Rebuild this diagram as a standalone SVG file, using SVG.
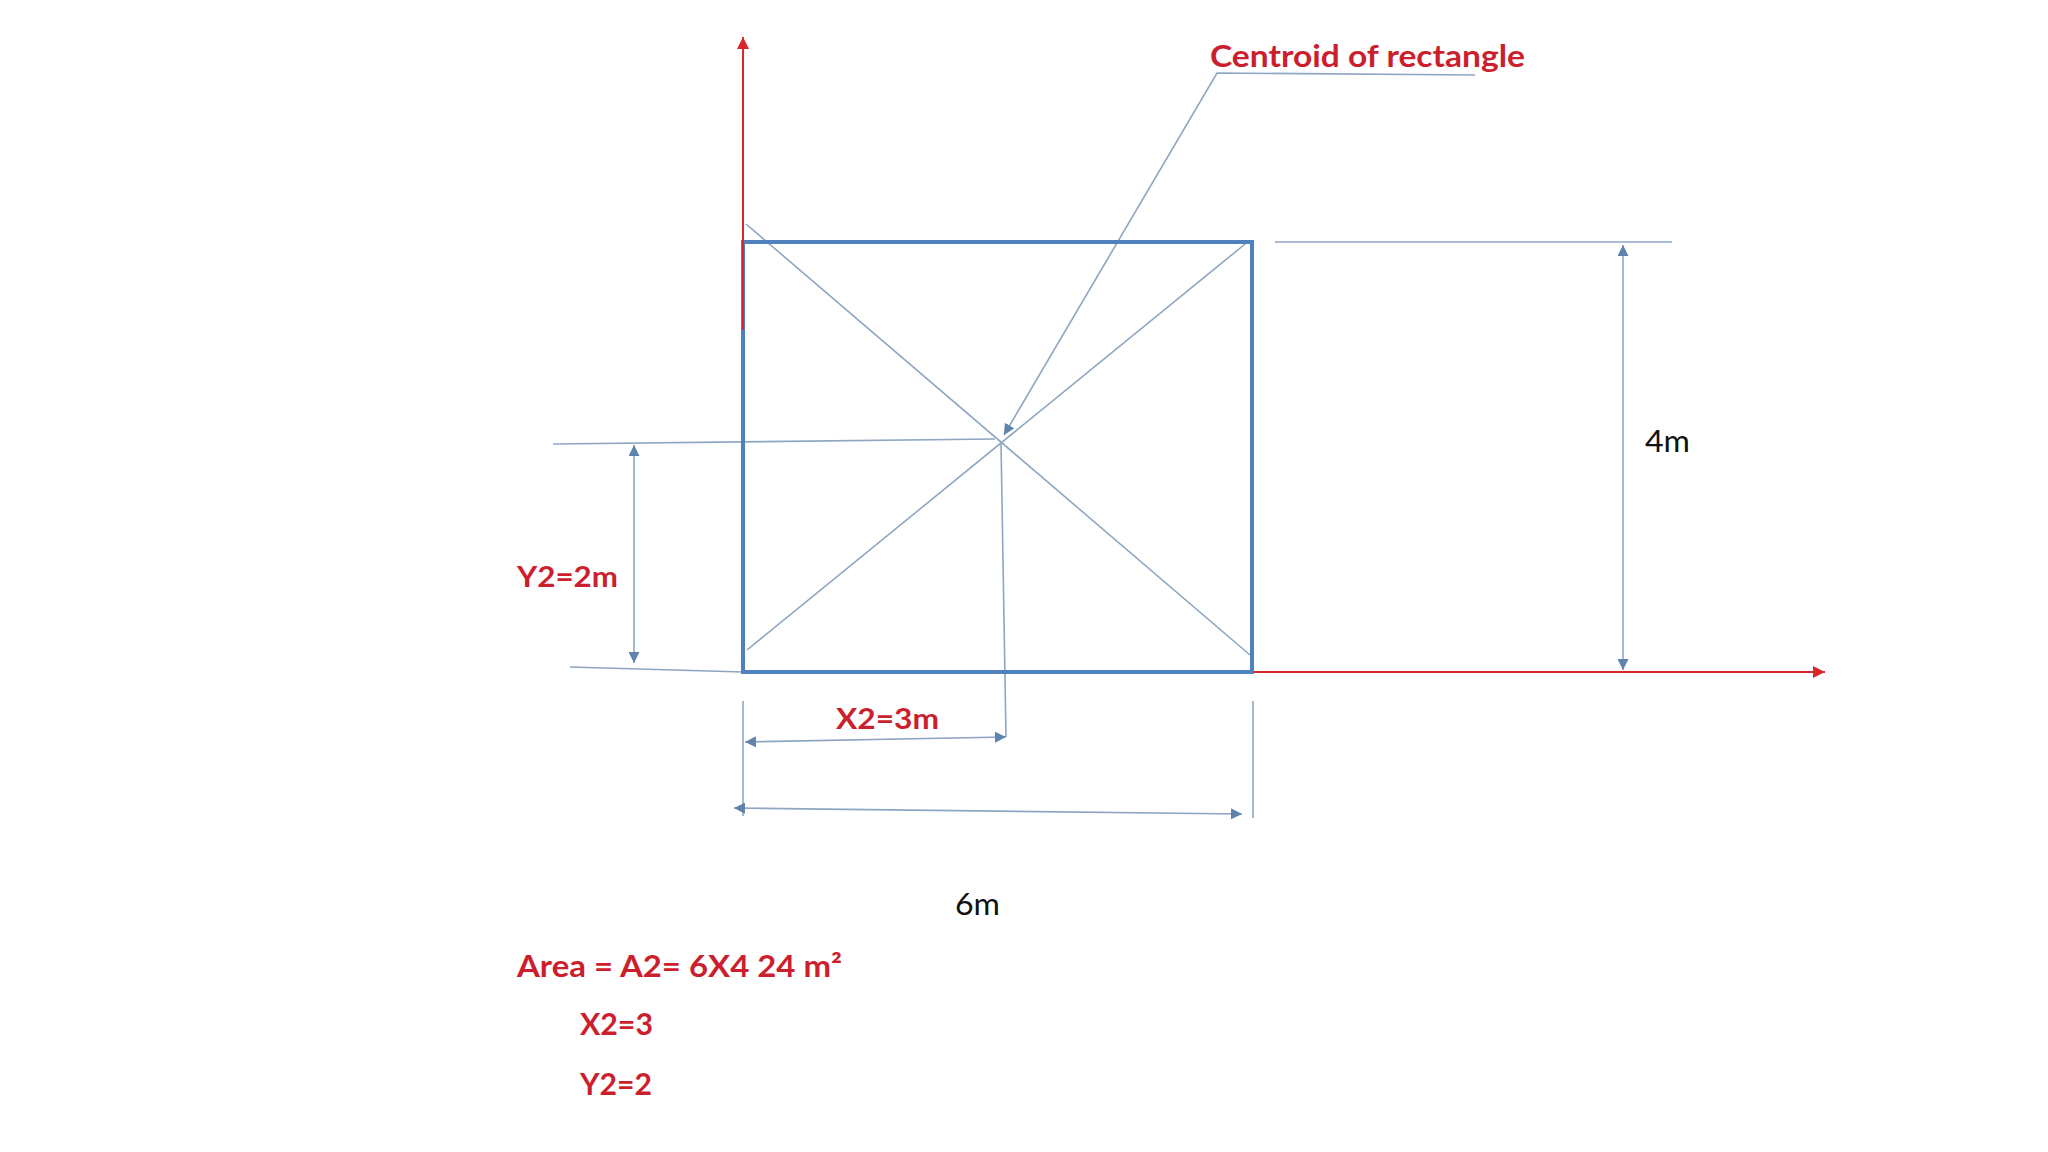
<svg xmlns="http://www.w3.org/2000/svg" width="2048" height="1152" viewBox="0 0 2048 1152">
<defs>
<style>
.axis{stroke:#d9262b;stroke-width:2;fill:none}
.rect{stroke:#4f81bd;stroke-width:4;fill:none}
.thin{stroke:#8ea6c2;stroke-width:1.6;fill:none}
.dim{stroke:#8ea6c2;stroke-width:1.6;fill:none;marker-start:url(#arrB);marker-end:url(#arrB)}
.red{font-family:Lato,"Liberation Sans",sans-serif;font-weight:bold;fill:#cc1f2e}
.blk{font-family:Lato,"Liberation Sans",sans-serif;fill:#111}
</style>
<marker id="arrR" viewBox="0 0 10 10" refX="10" refY="5" markerWidth="12" markerHeight="12" markerUnits="userSpaceOnUse" orient="auto-start-reverse"><path d="M0,0 L10,5 L0,10 Z" fill="#d9262b"/></marker>
<marker id="arrB" viewBox="0 0 10 10" refX="10" refY="5" markerWidth="11" markerHeight="11" markerUnits="userSpaceOnUse" orient="auto-start-reverse"><path d="M0,0 L10,5 L0,10 Z" fill="#5f83ab"/></marker>
</defs>
<rect width="2048" height="1152" fill="#ffffff"/>
<g id="connectors">
<line class="thin" x1="746" y1="224" x2="1250" y2="655"/>
<line class="thin" x1="747" y1="650" x2="1250" y2="240"/>
<line class="thin" x1="553" y1="444" x2="995" y2="439"/>
<line class="thin" x1="1001" y1="443" x2="1006" y2="737"/>
<line class="thin" x1="570" y1="667" x2="743" y2="672"/>
<line class="thin" x1="1275" y1="242" x2="1672" y2="242"/>
<line class="thin" x1="743" y1="701" x2="743" y2="816"/>
<line class="thin" x1="1253" y1="701" x2="1253" y2="818"/>
<polyline class="thin" points="1475,75 1217,73 1004,435" marker-end="url(#arrB)"/>
<line class="dim" x1="1623" y1="245" x2="1623" y2="670"/>
<line class="dim" x1="634" y1="445" x2="634" y2="663"/>
<line class="dim" x1="745" y1="742" x2="1006" y2="737"/>
<line class="dim" x1="734" y1="808" x2="1242" y2="814"/>
</g>
<g id="rectangle">
<rect class="rect" x="743" y="242" width="509" height="430"/>
</g>
<g id="axes">
<line class="axis" x1="743" y1="330" x2="743" y2="37" marker-end="url(#arrR)"/>
<line class="axis" x1="1254" y1="672" x2="1825" y2="672" marker-end="url(#arrR)"/>
</g>
<g id="labels">
<text class="red" x="1210" y="67" font-size="30" textLength="315" lengthAdjust="spacingAndGlyphs">Centroid of rectangle</text>
<text class="blk" x="1645" y="452" font-size="31" textLength="45" lengthAdjust="spacingAndGlyphs">4m</text>
<text class="blk" x="955" y="915" font-size="31" textLength="45" lengthAdjust="spacingAndGlyphs">6m</text>
<text class="red" x="517" y="587" font-size="29" textLength="101" lengthAdjust="spacingAndGlyphs">Y2=2m</text>
<text class="red" x="836" y="729" font-size="29" textLength="103" lengthAdjust="spacingAndGlyphs">X2=3m</text>
<text class="red" x="517" y="977" font-size="30" textLength="325" lengthAdjust="spacingAndGlyphs">Area = A2= 6X4 24 m²</text>
<text class="red" x="580" y="1035" font-size="30" textLength="73" lengthAdjust="spacingAndGlyphs">X2=3</text>
<text class="red" x="580" y="1095" font-size="30" textLength="72" lengthAdjust="spacingAndGlyphs">Y2=2</text>
</g>
</svg>
